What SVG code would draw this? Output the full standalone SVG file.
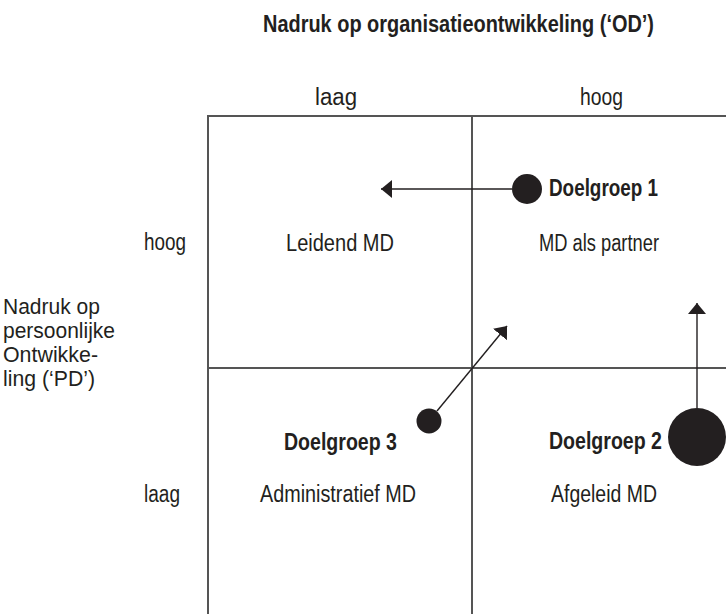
<svg xmlns="http://www.w3.org/2000/svg" width="726" height="614" viewBox="0 0 726 614">
<style>
text{font-family:"Liberation Sans",Arial,sans-serif;fill:#231f20;font-size:23px}
.b{font-weight:bold}
.side{font-size:21.5px}
.grid{stroke:#555;stroke-width:2;fill:none}
.arr{stroke:#231f20;stroke-width:1.4;fill:none}
.dot{fill:#231f20}
</style>
<defs>
<marker id="ah" markerUnits="userSpaceOnUse" markerWidth="12" markerHeight="20" refX="11" refY="9" orient="auto" viewBox="0 0 12 20">
<path d="M0,0 L11,9 L0,18 z" fill="#231f20"/>
</marker>
</defs>
<rect width="726" height="614" fill="#fff"/>
<g id="grid">
<path class="grid" d="M208,614 V116 H726 M472,116 V614 M208,368 H726"/>
</g>
<g id="axis-labels">
<text class="b" x="458.5" y="32" text-anchor="middle" textLength="391" lengthAdjust="spacingAndGlyphs">Nadruk op organisatieontwikkeling (‘OD’)</text>
<text x="336" y="105" text-anchor="middle" textLength="42" lengthAdjust="spacingAndGlyphs">laag</text>
<text x="601.5" y="105" text-anchor="middle" textLength="43" lengthAdjust="spacingAndGlyphs">hoog</text>
<text x="144" y="250" textLength="42" lengthAdjust="spacingAndGlyphs">hoog</text>
<text x="144" y="502" textLength="36" lengthAdjust="spacingAndGlyphs">laag</text>
<text class="side" x="3" y="314" textLength="97" lengthAdjust="spacingAndGlyphs">Nadruk op</text>
<text class="side" x="3" y="338" textLength="112" lengthAdjust="spacingAndGlyphs">persoonlijke</text>
<text class="side" x="3" y="362" textLength="95" lengthAdjust="spacingAndGlyphs">Ontwikke-</text>
<text class="side" x="3" y="386" textLength="92" lengthAdjust="spacingAndGlyphs">ling (‘PD’)</text>
</g>
<g id="cell-leidend"><text x="340" y="251" text-anchor="middle" textLength="108" lengthAdjust="spacingAndGlyphs">Leidend MD</text></g>
<g id="cell-partner"><text x="599" y="251" text-anchor="middle" textLength="120" lengthAdjust="spacingAndGlyphs">MD als partner</text></g>
<g id="cell-administratief"><text x="338" y="502" text-anchor="middle" textLength="156" lengthAdjust="spacingAndGlyphs">Administratief MD</text></g>
<g id="cell-afgeleid"><text x="604" y="502" text-anchor="middle" textLength="106" lengthAdjust="spacingAndGlyphs">Afgeleid MD</text></g>
<g id="doelgroep1">
<circle class="dot" cx="527" cy="189" r="15"/>
<text class="b" x="549" y="196" textLength="109" lengthAdjust="spacingAndGlyphs">Doelgroep 1</text>
</g>
<g id="doelgroep2">
<circle class="dot" cx="697" cy="437" r="29"/>
<text class="b" x="549" y="449" textLength="113" lengthAdjust="spacingAndGlyphs">Doelgroep 2</text>
</g>
<g id="doelgroep3">
<circle class="dot" cx="429" cy="421" r="12.5"/>
<text class="b" x="284" y="450" textLength="113" lengthAdjust="spacingAndGlyphs">Doelgroep 3</text>
</g>
<g id="connectors">
<line class="arr" x1="512" y1="189" x2="381" y2="189" marker-end="url(#ah)"/>
<line class="arr" x1="697" y1="408" x2="697" y2="303" marker-end="url(#ah)"/>
<line class="arr" x1="437" y1="411" x2="507" y2="326" marker-end="url(#ah)"/>
</g>
</svg>
